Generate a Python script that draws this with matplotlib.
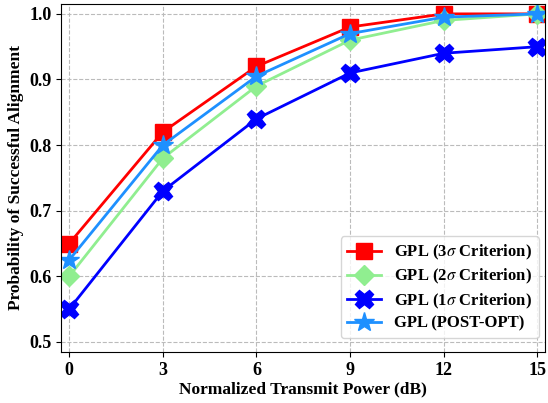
import matplotlib
matplotlib.use("Agg")
import matplotlib.pyplot as plt

# transmit power (dB)
power = [0, 3, 6, 9, 12, 15]

# success probabilities per criterion
p_3sigma = [0.65, 0.82, 0.92, 0.98, 1.0, 1.0]
p_2sigma = [0.60, 0.78, 0.89, 0.96, 0.99, 1.0]
p_1sigma = [0.55, 0.73, 0.84, 0.91, 0.94, 0.95]
p_postopt = [0.625, 0.80, 0.905, 0.97, 0.995, 1.0]

plt.rcParams['font.family'] = ['Liberation Serif', 'DejaVu Serif']
plt.rcParams['mathtext.fontset'] = 'stix'

fig, ax = plt.subplots(figsize=(5.48, 4.03), dpi=100)

ax.plot(power, p_3sigma, color='red', marker='s', markersize=11, linewidth=2,
        label=r'GPL (3$\sigma$ Criterion)')
ax.plot(power, p_2sigma, color='lightgreen', marker='D', markersize=10, linewidth=2,
        label=r'GPL (2$\sigma$ Criterion)')
ax.plot(power, p_1sigma, color='blue', marker='X', markersize=13, linewidth=2,
        label=r'GPL (1$\sigma$ Criterion)')
ax.plot(power, p_postopt, color='dodgerblue', marker='*', markersize=15, linewidth=2,
        label='GPL (POST-OPT)')

ax.set_xlim(-0.25, 15.25)
ax.set_ylim(0.485, 1.015)
ax.set_xticks(power)
ax.set_yticks([0.5, 0.6, 0.7, 0.8, 0.9, 1.0])
ax.grid(True, linestyle='--', color='#bbbbbb', linewidth=0.8)

for lbl in ax.get_xticklabels() + ax.get_yticklabels():
    lbl.set_fontweight('bold')
    lbl.set_fontsize(13)

ax.set_xlabel('Normalized Transmit Power (dB)', fontsize=12.5, fontweight='bold', labelpad=2)
ax.set_ylabel('Probability of Successful Alignment', fontsize=12.5, fontweight='bold')

ax.legend(loc='lower right', bbox_to_anchor=(1.0, 0.02), borderaxespad=0.4,
          labelspacing=0.3, prop={'weight': 'bold', 'size': 12})

fig.subplots_adjust(left=0.112, right=0.995, top=0.99, bottom=0.127)
fig.savefig('out.png', dpi=100)
